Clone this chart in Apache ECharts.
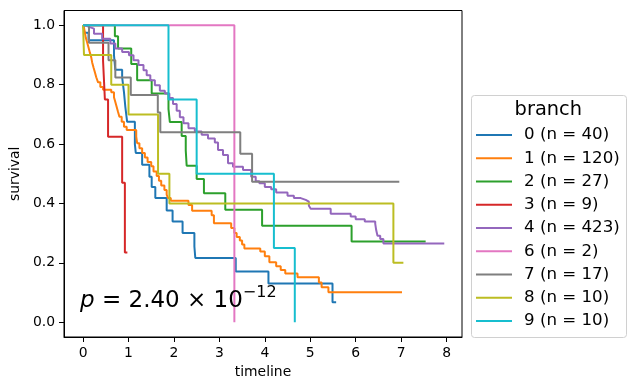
<!DOCTYPE html>
<html><head><meta charset="utf-8">
<script src="https://cdn.jsdelivr.net/npm/echarts@6/dist/echarts.min.js"></script>
<style>html,body{margin:0;padding:0;background:#fff}#c{width:636px;height:390px}</style>
</head><body><div id="c"></div>
<script>
// ---- data ----
const branches = ['0', '1', '2', '3', '4', '6', '7', '8', '9'];
const counts = [40, 120, 27, 9, 423, 2, 17, 10, 10];
const colors = ['#1f77b4', '#ff7f0e', '#2ca02c', '#d62728', '#9467bd', '#e377c2', '#7f7f7f', '#bcbd22', '#17becf'];
const xTicks = [0, 1, 2, 3, 4, 5, 6, 7, 8];
const yTicks = [0, 0.2, 0.4, 0.6, 0.8, 1.0];

const t0 = [0, 0.03, 0.12, 0.68, 0.71, 0.86, 0.90, 0.93, 0.97, 1.14, 1.16, 1.30, 1.46, 1.51, 1.59, 1.84, 1.97, 2.19, 2.45, 2.47, 3.36, 4.08, 5.49, 5.57];
const s0 = [1, 0.975, 0.95, 0.90, 0.85, 0.825, 0.775, 0.725, 0.675, 0.60, 0.57, 0.53, 0.49, 0.455, 0.418, 0.376, 0.339, 0.30, 0.255, 0.216, 0.171, 0.13, 0.067, 0.067];

const t1 = [0, 0.02, 0.04, 0.06, 0.09, 0.12, 0.15, 0.18, 0.20, 0.23, 0.26, 0.29, 0.33, 0.38, 0.44, 0.62, 0.68, 0.71, 0.74, 0.77, 0.80, 0.85, 0.90, 0.96, 1.17, 1.19, 1.24, 1.30, 1.36, 1.42, 1.50, 1.55, 1.62, 1.67, 1.72, 1.79, 1.84, 1.87, 1.93, 2.32, 2.40, 2.83, 2.88, 3.26, 3.33, 3.38, 3.45, 3.50, 3.55, 3.90, 4.00, 4.10, 4.25, 4.35, 4.45, 4.72, 5.19, 5.25, 5.40, 7.02];
const s1 = [1, 0.992, 0.975, 0.958, 0.942, 0.925, 0.908, 0.892, 0.875, 0.858, 0.842, 0.825, 0.808, 0.792, 0.783, 0.775, 0.758, 0.742, 0.725, 0.708, 0.692, 0.675, 0.658, 0.647, 0.625, 0.603, 0.586, 0.570, 0.555, 0.540, 0.525, 0.508, 0.492, 0.476, 0.460, 0.445, 0.430, 0.418, 0.409, 0.395, 0.375, 0.360, 0.333, 0.317, 0.300, 0.287, 0.275, 0.262, 0.248, 0.238, 0.222, 0.202, 0.188, 0.176, 0.164, 0.151, 0.134, 0.118, 0.101, 0.101];

const t2 = [0, 0.70, 0.77, 1.06, 1.19, 1.51, 1.88, 1.91, 2.17, 2.26, 2.28, 2.50, 2.66, 3.13, 3.94, 5.91, 7.54];
const s2 = [1, 0.963, 0.922, 0.87, 0.815, 0.77, 0.718, 0.674, 0.627, 0.578, 0.527, 0.482, 0.434, 0.379, 0.325, 0.272, 0.272];

const t3 = [0, 0.44, 0.48, 0.55, 0.86, 0.92, 0.975];
const s3 = [1, 0.88, 0.75, 0.625, 0.47, 0.235, 0.235];

const t4 = [0, 0.05, 0.13, 0.24, 0.42, 0.60, 0.71, 0.86, 1.01, 1.11, 1.22, 1.33, 1.40, 1.48, 1.58, 1.69, 1.80, 1.90, 1.98, 2.06, 2.13, 2.21, 2.32, 2.46, 2.61, 2.75, 2.90, 2.97, 3.08, 3.19, 3.30, 3.52, 3.70, 3.80, 3.88, 4.00, 4.14, 4.25, 4.50, 4.64, 4.79, 4.90, 4.97, 5.01, 5.45, 5.89, 6.00, 6.20, 6.43, 6.45, 6.48, 6.54, 6.61, 7.95];
const s4 = [1, 0.995, 0.989, 0.972, 0.955, 0.939, 0.922, 0.910, 0.899, 0.882, 0.866, 0.849, 0.832, 0.815, 0.798, 0.780, 0.770, 0.755, 0.735, 0.712, 0.690, 0.670, 0.653, 0.642, 0.631, 0.619, 0.605, 0.580, 0.563, 0.535, 0.524, 0.513, 0.490, 0.475, 0.468, 0.455, 0.448, 0.437, 0.426, 0.418, 0.412, 0.406, 0.392, 0.382, 0.365, 0.356, 0.347, 0.339, 0.332, 0.311, 0.291, 0.280, 0.265, 0.265];

const t6 = [0, 3.33];
const s6 = [1, 0];

const t7 = [0, 0.13, 0.56, 0.71, 1.05, 1.645, 1.70, 3.46, 3.72, 6.96];
const s7 = [1, 0.941, 0.882, 0.824, 0.765, 0.706, 0.64, 0.567, 0.473, 0.473];

const t8 = [0, 0.02, 0.62, 1.0, 1.65, 1.90, 6.83, 7.05];
const s8 = [1, 0.9, 0.8, 0.7, 0.5, 0.4, 0.2, 0.2];

const t9 = [0, 1.88, 2.50, 4.20, 4.66];
const s9 = [1, 0.75, 0.5, 0.25, 0];

const times = [t0, t1, t2, t3, t4, t6, t7, t8, t9];
const surv = [s0, s1, s2, s3, s4, s6, s7, s8, s9];

// ---- chart ----
const FONT = 'DejaVu Sans';
const chart = echarts.init(document.getElementById('c'), null, {renderer: 'canvas'});
const names = branches.map((b, i) => `${b} (n = ${counts[i]})`);
const series = branches.map((b, i) => ({
  name: names[i],
  type: 'line',
  step: 'end',
  symbol: 'none',
  silent: true,
  data: times[i].map((t, j) => [t, surv[i][j]]),
  lineStyle: {width: 2, color: colors[i]},
  itemStyle: {color: colors[i]}
}));

const axisCommon = {
  type: 'value',
  nameLocation: 'middle',
  nameTextStyle: {fontFamily: FONT, fontSize: 13.9, color: '#000'},
  axisLine: {show: true, onZero: false, lineStyle: {color: '#000', width: 1}},
  splitLine: {show: false}
};

chart.setOption({
  animation: false,
  backgroundColor: '#fff',
  grid: {left: 61, top: 10.5, right: 174, bottom: 53, show: true, borderColor: '#000', borderWidth: 1, backgroundColor: 'transparent'},
  xAxis: Object.assign({}, axisCommon, {
    min: -0.42, max: 8.34, name: 'timeline', nameGap: 26,
    axisTick: {show: true, length: 5, lineStyle: {color: '#000'}, customValues: xTicks},
    axisLabel: {customValues: xTicks, margin: 9, fontFamily: FONT, fontSize: 13.9, color: '#000', formatter: v => String(v)}
  }),
  yAxis: Object.assign({}, axisCommon, {
    min: -0.05, max: 1.05, name: 'survival', nameGap: 38,
    axisTick: {show: true, length: 5, lineStyle: {color: '#000'}, customValues: yTicks},
    axisLabel: {customValues: yTicks, margin: 9, fontFamily: FONT, fontSize: 13.9, color: '#000', formatter: v => v.toFixed(1)}
  }),
  legend: {
    orient: 'vertical', left: 476, top: 125, padding: 0, itemWidth: 36, itemHeight: 2, icon: 'rect',
    itemGap: 3.25, selectedMode: false, data: names,
    textStyle: {fontFamily: FONT, fontSize: 16.67, color: '#000', lineHeight: 20, padding: [0, 0, 0, 7]}
  },
  graphic: [
    {type: 'rect', silent: true, z: 0, shape: {x: 471.5, y: 95.5, width: 155, height: 242, r: 3}, style: {fill: '#fff', stroke: '#d0d0d0', lineWidth: 1}},
    {type: 'text', silent: true, z: 5, x: 548.3, y: 110, style: {text: 'branch', fontFamily: FONT, fontSize: 19.4, fill: '#000', align: 'center', verticalAlign: 'middle'}},
    {type: 'text', silent: true, z: 5, x: 80, y: 301, style: {
      text: '{p|p}{n| = 2.40 × 10}{s|−12}', verticalAlign: 'middle', align: 'left',
      rich: {
        p: {fontFamily: FONT, fontStyle: 'italic', fontSize: 23, lineHeight: 32, fill: '#000'},
        n: {fontFamily: FONT, fontSize: 23, lineHeight: 32, fill: '#000'},
        s: {fontFamily: FONT, fontSize: 16, lineHeight: 17, verticalAlign: 'top', fill: '#000'}
      }
    }}
  ],
  series: series
});
</script>
</body></html>
